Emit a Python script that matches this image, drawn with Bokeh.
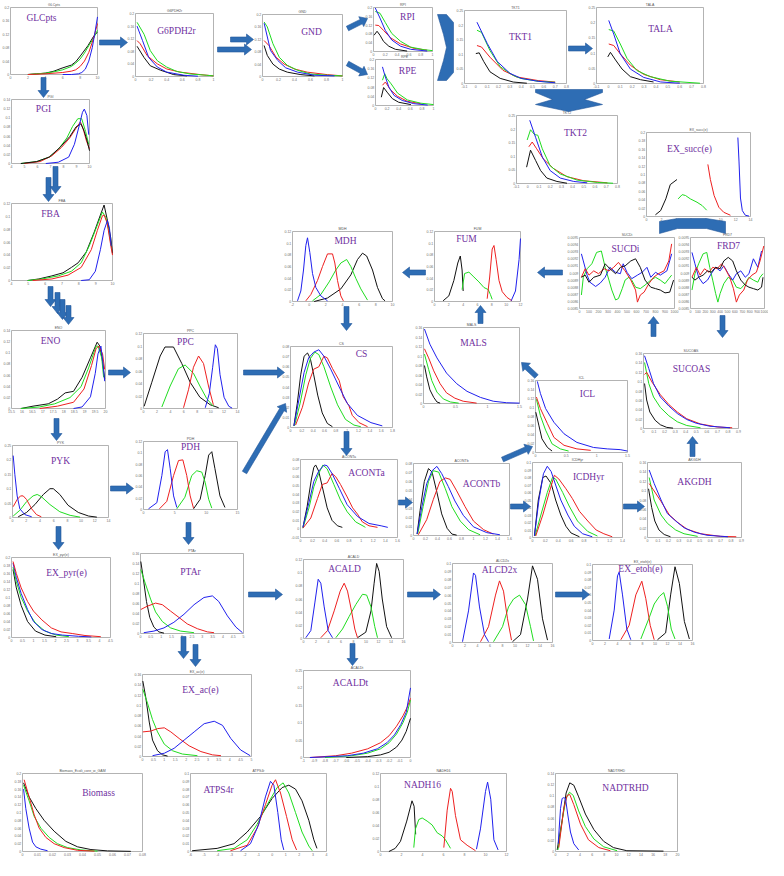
import math
from bokeh.plotting import figure
from bokeh.models import Range1d
from bokeh.core.properties import value
from bokeh.embed import file_html
from bokeh.resources import INLINE

# ---------------- colours / fonts ----------------
K, R, G, B = "#111111", "#ee2020", "#20dd20", "#2020ee"
FRAME = "#a0a0a0"
TICKC = "#707070"
LABELC = "#7030A0"
ARROWC = "#2E6DB4"
ARROWL = "#24579a"

# ---------------- tick lists ----------------
XT_0_10 = [0, 2, 4, 6, 8, 10]
XT_0_1 = [0, 0.2, 0.4, 0.6, 0.8, 1]
XT_TK = [-0.1, 0, 0.1, 0.2, 0.3, 0.4, 0.5, 0.6, 0.7, 0.8]
XT_0_14 = [0, 2, 4, 6, 8, 10, 12, 14]
XT_1000 = [0, 100, 200, 300, 400, 500, 600, 700, 800, 900, 1000]
XT_M2_10 = [-2, 0, 2, 4, 6, 8, 10]
XT_0_12 = [0, 2, 4, 6, 8, 10, 12]
XT_0_18 = [0, 0.2, 0.4, 0.6, 0.8, 1, 1.2, 1.4, 1.6, 1.8]
XT_0_15H = [0, 0.5, 1, 1.5]
XT_0_09 = [0, 0.1, 0.2, 0.3, 0.4, 0.5, 0.6, 0.7, 0.8, 0.9]
XT_4_10 = [4, 5, 6, 7, 8, 9, 10]
XT_ENO = [15.5, 16, 16.5, 17, 17.5, 18, 18.5, 19, 19.5, 20]
XT_0_15 = [0, 5, 10, 15]
XT_0_16S = [0, 0.2, 0.4, 0.6, 0.8, 1, 1.2, 1.4, 1.6]
XT_0_14S = [0, 0.2, 0.4, 0.6, 0.8, 1, 1.2, 1.4]
XT_0_45 = [0, 0.5, 1, 1.5, 2, 2.5, 3, 3.5, 4, 4.5]
XT_0_5 = [0, 0.5, 1, 1.5, 2, 2.5, 3, 3.5, 4, 4.5, 5]
XT_0_16 = [0, 2, 4, 6, 8, 10, 12, 14, 16]
XT_M1_0 = [-1, -0.9, -0.8, -0.7, -0.6, -0.5, -0.4, -0.3, -0.2, -0.1, 0]
XT_0_008 = [0, 0.01, 0.02, 0.03, 0.04, 0.05, 0.06, 0.07, 0.08]
XT_M6_4 = [-6, -5, -4, -3, -2, -1, 0, 1, 2, 3, 4]
XT_0_20 = [0, 2, 4, 6, 8, 10, 12, 14, 16, 18, 20]

YT_020 = [0, 0.04, 0.08, 0.12, 0.16, 0.2]
YT_020B = [0, 0.02, 0.04, 0.06, 0.08, 0.1, 0.12, 0.14, 0.16, 0.18, 0.2]
YT_025 = [0, 0.05, 0.1, 0.15, 0.2, 0.25]
YT_SUC = [0.0085, 0.0086, 0.0087, 0.0088, 0.0089, 0.009, 0.0091, 0.0092, 0.0093, 0.0094, 0.0095]
YT_012 = [0, 0.02, 0.04, 0.06, 0.08, 0.1, 0.12]
YT_008 = [0, 0.01, 0.02, 0.03, 0.04, 0.05, 0.06, 0.07, 0.08]
YT_016 = [0, 0.02, 0.04, 0.06, 0.08, 0.1, 0.12, 0.14, 0.16]
YT_014 = [0, 0.02, 0.04, 0.06, 0.08, 0.1, 0.12, 0.14]
YT_ACA = [-0.01, 0, 0.01, 0.02, 0.03, 0.04, 0.05, 0.06, 0.07, 0.08]
YT_010 = [0, 0.01, 0.02, 0.03, 0.04, 0.05, 0.06, 0.07, 0.08, 0.09, 0.1]

# ---------------- series ----------------
glc_k_x = [2, 3, 4, 5, 5.8, 6.5, 7, 7.5, 8.1, 8.9, 9.6, 10]
glc_k_y = [0, .002, .004, .01, .018, .024, .028, .038, .058, .086, .116, .126]
glc_r_x = [2, 4, 5, 6, 7, 7.5, 8, 8.5, 9, 9.5, 10]
glc_r_y = [0, .002, .004, .006, .01, .014, .024, .04, .066, .104, .152]
glc_g_x = [2, 4, 5, 6, 7, 7.5, 8, 8.5, 9, 9.5, 10]
glc_g_y = [0, .004, .008, .014, .024, .034, .046, .064, .086, .106, .132]
glc_b_x = [6, 7, 7.8, 8.2, 8.6, 9, 9.4, 9.7, 10]
glc_b_y = [0, 0, .002, .006, .016, .04, .08, .124, .172]

g6p_k_x = [.02, .11, .19, .32, .49, .66]
g6p_k_y = [.096, .06, .034, .02, .006, .002]
g6p_r_x = [.02, .06, .15, .28, .4, .57, .83, 1.0]
g6p_r_y = [.114, .104, .066, .04, .024, .014, .006, .002]
g6p_g_x = [.02, .11, .19, .28, .4, .53, .7, .91, 1.0]
g6p_g_y = [.172, .134, .082, .05, .03, .016, .008, .004, .002]
g6p_b_x = [.02, .09, .17, .28, .4, .62, .8]
g6p_b_y = [.16, .114, .06, .03, .014, .004, .001]

gnd_k_x = [.02, .06, .13, .21, .31, .48, .65]
gnd_k_y = [.1, .068, .04, .024, .014, .006, .002]
gnd_r_x = [.02, .08, .17, .27, .4, .56, .81, 1.0]
gnd_r_y = [.116, .1, .062, .04, .024, .014, .006, .002]
gnd_g_x = [.02, .06, .13, .21, .31, .44, .6, .81, 1.0]
gnd_g_y = [.176, .16, .106, .062, .036, .02, .008, .004, .002]
gnd_b_x = [.02, .1, .19, .29, .44, .65, .9]
gnd_b_y = [.172, .084, .052, .028, .014, .004, .002]

rpi_k_x = [.01, .06, .11, .17, .26, .37, .57]
rpi_k_y = [.074, .092, .074, .046, .024, .01, .002]
rpi_r_x = [.03, .09, .17, .29, .46, .69, .91]
rpi_r_y = [.12, .118, .096, .062, .034, .014, .006]
rpi_g_x = [.03, .11, .2, .31, .46, .63, .86, 1.0]
rpi_g_y = [.182, .174, .132, .082, .046, .02, .008, .004]
rpi_b_x = [.03, .11, .2, .31, .46, .63, .91]
rpi_b_y = [.198, .152, .096, .052, .024, .01, .002]

rpe_k_x = [.1, .14, .2, .29, .4, .61]
rpe_k_y = [.036, .078, .058, .03, .014, .004]
rpe_r_x = [.12, .17, .26, .38, .55, .78]
rpe_r_y = [.088, .102, .068, .04, .018, .008]
rpe_g_x = [.12, .16, .2, .27, .38, .55, .78, 1.0]
rpe_g_y = [.11, .138, .116, .094, .054, .024, .01, .004]
rpe_b_x = [.12, .16, .23, .32, .46, .66, .9]
rpe_b_y = [.168, .132, .08, .044, .022, .008, .002]

tkt1_k_x = [0, .03, .07, .125, .215, .33, .45]
tkt1_k_y = [.1025, .105, .075, .04, .0175, .005, .001]
tkt1_r_x = [.01, .05, .125, .24, .36, .55, .7]
tkt1_r_y = [.13, .125, .09, .045, .0225, .01, .005]
tkt1_g_x = [.01, .05, .125, .215, .33, .395, .55, .7]
tkt1_g_y = [.1825, .175, .1125, .0575, .0275, .0175, .0075, .004]
tkt1_b_x = [.01, .1, .19, .3, .4, .55, .7]
tkt1_b_y = [.21, .1375, .075, .035, .0175, .0075, .0025]

tala_k_x = [-.005, .017, .06, .115, .185, .27, .38]
tala_k_y = [.0875, .1025, .0775, .0475, .0225, .0125, .005]
tala_r_x = [.003, .045, .1, .185, .297, .437, .6]
tala_r_y = [.13, .125, .0975, .06, .03, .0125, .005]
tala_g_x = [.003, .045, .1, .157, .24, .353, .52, .77]
tala_g_y = [.1775, .1725, .13, .0825, .0425, .0225, .0075, .001]
tala_b_x = [.003, .045, .1, .185, .297, .44, .6]
tala_b_y = [.2075, .1625, .0975, .0475, .02, .005, .001]

tkt2_k_x = [-.01, .025, .07, .115, .17, .26, .35]
tkt2_k_y = [.06, .1225, .085, .0475, .02, .0075, .001]
tkt2_r_x = [.01, .04, .08, .14, .23, .35, .5, .71]
tkt2_r_y = [.135, .1525, .1275, .09, .055, .025, .01, .0025]
tkt2_g_x = [-.005, .025, .06, .09, .13, .2, .29, .44, .62, .76]
tkt2_g_y = [.16, .1975, .18, .1775, .1275, .065, .035, .0125, .004, .001]
tkt2_b_x = [.018, .07, .13, .2, .29, .41, .53]
tkt2_b_y = [.2325, .17, .0975, .0475, .02, .0075, .0025]

succ_k_x = [1.2, 1.9, 2.6, 3.2, 4.1]
succ_k_y = [.004, .014, .042, .076, .088]
succ_g_x = [4.26, 4.8, 5.25, 5.9, 6.8, 7.5, 8.1]
succ_g_y = [.042, .052, .05, .042, .034, .026, .015]
succ_r_x = [8.26, 8.6, 9.1, 9.74, 10.4, 11.3]
succ_r_y = [.124, .088, .05, .022, .01, .003]
succ_b_x = [12.3, 12.45, 12.65, 12.9, 13.3, 13.8]
succ_b_y = [.188, .132, .044, .014, .003, .001]

sucdi_g_x = [20, 40, 80, 130, 180, 230, 270, 310, 340, 380, 410, 450, 480, 520, 550, 590, 640, 690, 750, 800, 850, 900, 940, 970]
sucdi_g_y = [.00869, .00894, .00906, .00913, .00929, .00931, .00908, .0089, .00876, .00862, .00864, .00878, .0089, .00894, .0089, .0088, .00878, .00883, .0089, .00894, .0089, .00885, .00892, .00897]
sucdi_b_x = [20, 40, 80, 110, 170, 220, 270, 320, 380, 430, 460, 500, 550, 610, 660, 710, 750, 800, 850, 920, 970]
sucdi_b_y = [.00927, .00917, .00897, .00887, .00881, .00886, .00894, .00908, .00901, .00899, .00913, .00901, .00892, .00897, .00901, .00908, .00894, .00901, .00897, .00903, .00927]
sucdi_r_x = [20, 60, 100, 150, 200, 260, 310, 360, 410, 450, 480, 540, 590, 610, 640, 680, 730, 780, 830, 890, 940, 970]
sucdi_r_y = [.00894, .00906, .00897, .00903, .00899, .00906, .00903, .00908, .00915, .00908, .00903, .0089, .00876, .00859, .00869, .00873, .00885, .00894, .00899, .00903, .00917, .00941]
sucdi_k_x = [20, 60, 100, 150, 220, 270, 320, 380, 430, 480, 540, 590, 640, 690, 750, 800, 850, 900, 950, 990]
sucdi_k_y = [.00894, .00897, .00887, .00894, .00897, .00913, .00906, .00899, .00908, .0091, .00917, .0092, .00908, .0089, .0088, .00878, .00876, .00872, .00873, .0089]

frd7_g_x = [20, 60, 110, 170, 220, 260, 300, 340, 370, 400, 450, 510, 570, 620, 680, 740, 790, 850, 910, 940, 980]
frd7_g_y = [.00876, .00899, .00913, .00927, .00929, .00908, .0089, .00871, .00859, .00871, .00885, .00894, .0089, .0088, .00878, .00885, .00894, .0089, .00887, .00894, .00899]
frd7_b_x = [20, 60, 110, 170, 230, 280, 340, 400, 450, 510, 570, 620, 680, 740, 790, 850, 910, 960]
frd7_b_y = [.00929, .00913, .00894, .00885, .0089, .00899, .00908, .00903, .0091, .00899, .0089, .00899, .00903, .00894, .00899, .0092, .00908, .00931]
frd7_r_x = [20, 80, 130, 190, 250, 300, 360, 420, 470, 530, 580, 620, 660, 720, 770, 830, 890, 940, 990]
frd7_r_y = [.00894, .00908, .00897, .00906, .00901, .00908, .00906, .00913, .00906, .00894, .00878, .00859, .00869, .00876, .0089, .00897, .00901, .00917, .00938]
frd7_k_x = [20, 60, 110, 170, 230, 280, 340, 400, 450, 510, 570, 620, 680, 740, 790, 850, 910, 960, 980]
frd7_k_y = [.00894, .0089, .00894, .00897, .00903, .00901, .00908, .00906, .00917, .00922, .00917, .00903, .0089, .00883, .0088, .00878, .00876, .0088, .00894]

mdh_b_x = [-1.4, -1.0, -.68, -.4, -.2, .08, .4, .8, 1.4, 2.2]
mdh_b_y = [.0012, .018, .054, .096, .1092, .084, .048, .024, .0096, .0012]
mdh_r_x = [-.4, .2, 1.0, 1.6, 2.2, 2.8, 3.08, 3.4, 3.8, 4.1]
mdh_r_y = [.0012, .012, .036, .06, .0816, .0816, .066, .036, .0096, .0012]
mdh_g_x = [.4, 1.4, 2.4, 3.2, 3.8, 4.5, 5.0, 5.6, 6.2, 7.0]
mdh_g_y = [.0012, .012, .0336, .054, .066, .072, .06, .0396, .0216, .0024]
mdh_k_x = [.6, 2.2, 3.8, 5.0, 5.8, 6.4, 6.9, 7.6, 8.2, 8.8, 9.1]
mdh_k_y = [0, .006, .0216, .0456, .072, .0828, .078, .054, .024, .0048, .0012]

fum_k_x = [1.2, 2.0, 2.7, 3.25, 3.6, 3.85, 4.0]
fum_k_y = [.0012, .0096, .036, .066, .078, .054, .018]
fum_g_x = [3.85, 4.2, 4.8, 5.5, 6.2, 6.9, 7.5, 7.8, 8.05]
fum_g_y = [.0204, .048, .0504, .042, .0336, .024, .0204, .012, .0036]
fum_r_x = [7.35, 7.7, 8.05, 8.3, 8.6, 9.0, 9.45, 10.1, 10.8]
fum_r_y = [.0048, .042, .09, .096, .072, .036, .0168, .0072, .0012]
fum_b_x = [10.7, 11.3, 11.8, 12.0]
fum_b_y = [.0012, .018, .072, .108]

cs_k_x = [.06, .12, .18, .24, .3, .35, .41, .48, .56, .65, .74]
cs_k_y = [.0016, .024, .052, .0704, .0736, .068, .052, .032, .0144, .004, .0008]
cs_b_x = [.06, .15, .24, .32, .41, .5, .59, .71, .86, 1.0, 1.18, 1.42, 1.62]
cs_b_y = [.0016, .028, .0544, .0688, .0744, .0768, .0704, .0576, .04, .024, .012, .0048, .0016]
cs_g_x = [.07, .17, .27, .35, .43, .5, .59, .71, .83, .97, 1.12, 1.24]
cs_g_y = [.0016, .024, .052, .068, .0744, .072, .06, .04, .0224, .008, .0024, .0008]
cs_r_x = [.09, .21, .32, .41, .5, .59, .65, .74, .86, .93, 1.03, 1.09, 1.21, 1.36]
cs_r_y = [.0024, .02, .044, .0576, .06, .0704, .0688, .0584, .0464, .0304, .0216, .012, .0048, .0008]

mals_b_x = [.015, .1, .21, .36, .52, .68, .89, 1.09, 1.3, 1.5]
mals_b_y = [.1568, .1248, .096, .064, .0416, .0256, .0128, .0048, .0016, .0008]
mals_r_x = [.015, .08, .16, .26, .36, .49, .62, .83]
mals_r_y = [.1152, .096, .0688, .0416, .0224, .0112, .0048, .0008]
mals_g_x = [.015, .08, .13, .21, .31, .42, .55]
mals_g_y = [.104, .072, .048, .024, .0096, .0032, .0008]
mals_k_x = [.015, .05, .1, .16, .21, .26]
mals_k_y = [.08, .056, .0288, .0128, .0032, .0008]

icl_b_x = [.03, .08, .165, .3, .465, .675, .945, 1.17, 1.38, 1.5]
icl_b_y = [.158, .1312, .0976, .0672, .0416, .0224, .0112, .008, .0064, .0032]
icl_r_x = [.015, .08, .195, .3, .465, .675, .9]
icl_r_y = [.1232, .0976, .064, .0336, .016, .008, .0048]
icl_g_x = [.015, .08, .165, .27, .405, .54]
icl_g_y = [.1184, .0816, .0496, .0192, .008, .0032]
icl_k_x = [.005, .054, .105, .195, .27]
icl_k_y = [.0896, .0608, .0304, .0112, .0032]

sucoas_b_x = [.01, .05, .095, .16, .24, .32, .41, .5, .63, .82]
sucoas_b_y = [.1552, .128, .096, .0672, .048, .032, .0192, .0112, .0048, .0016]
sucoas_r_x = [.01, .03, .08, .16, .24, .32, .41, .54, .7, .84]
sucoas_r_y = [.1152, .12, .0992, .072, .0512, .0352, .0208, .0096, .0032, .0016]
sucoas_g_x = [.01, .05, .095, .16, .24, .32, .41, .54]
sucoas_g_y = [.1408, .096, .0672, .0448, .0272, .0144, .0064, .0016]
sucoas_k_x = [.01, .03, .06, .11, .16, .22, .28]
sucoas_k_y = [.096, .0608, .0352, .0176, .008, .0024, .0008]

akgdh_b_x = [.016, .064, .13, .19, .27, .35, .45, .57, .77]
akgdh_b_y = [.144, .1152, .08, .0512, .0352, .0208, .0112, .0048, .0016]
akgdh_r_x = [.016, .064, .13, .21, .29, .38, .51, .7, .85]
akgdh_r_y = [.1152, .0992, .0768, .048, .032, .0176, .008, .0024, .0016]
akgdh_g_x = [.016, .064, .13, .19, .27, .35, .48]
akgdh_g_y = [.128, .08, .048, .0304, .016, .008, .0024]
akgdh_k_x = [.01, .04, .07, .11, .16, .22]
akgdh_k_y = [.104, .064, .0352, .016, .0064, .0016]

pgi_g_x = [4.72, 5.94, 6.9, 7.6, 8.26, 8.7, 9.1, 9.4, 9.7, 9.94]
pgi_g_y = [0, .0042, .014, .0308, .056, .0812, .098, .098, .07, .042]
pgi_r_x = [4.97, 6.2, 7.1, 7.84, 8.48, 8.96, 9.3, 9.5, 9.77, 10]
pgi_r_y = [0, .0042, .0168, .035, .056, .077, .091, .077, .049, .0322]
pgi_k_x = [4.72, 5.94, 6.9, 7.72, 8.48, 8.96, 9.34, 9.6, 9.82, 10]
pgi_k_y = [0, .0042, .014, .035, .0588, .0798, .0868, .07, .049, .028]
pgi_b_x = [6.64, 7.6, 8.4, 8.84, 9.22, 9.46, 9.6, 9.8, 9.94]
pgi_b_y = [0, .0028, .014, .042, .084, .112, .119, .105, .063]

fba_k_x = [4.96, 5.62, 6.4, 7.06, 7.56, 7.96, 8.44, 8.9, 9.28, 9.5, 9.68, 9.9, 10]
fba_k_y = [0, .0024, .0072, .012, .0204, .0276, .0444, .0744, .102, .1176, .096, .066, .042]
fba_g_x = [4.96, 5.8, 6.78, 7.56, 8.14, 8.62, 9.1, 9.4, 9.6, 9.78, 9.92]
fba_g_y = [0, .0024, .0072, .0144, .0276, .054, .0864, .1068, .0984, .078, .054]
fba_r_x = [5.26, 6.4, 7.36, 8.14, 8.74, 9.1, 9.4, 9.5, 9.68, 9.9, 10]
fba_r_y = [0, .0024, .0084, .0204, .048, .078, .1008, .102, .09, .054, .0396]
fba_b_x = [8.14, 8.62, 8.98, 9.28, 9.5, 9.7, 9.82, 9.92]
fba_b_y = [0, .0012, .0144, .048, .078, .0936, .0816, .054]

eno_k_x = [15.95, 16.53, 17.26, 17.7, 18.07, 18.47, 18.88, 19.28, 19.6, 19.73, 19.86, 19.96]
eno_k_y = [0, .0042, .0084, .0168, .028, .0308, .056, .091, .119, .112, .084, .0532]
eno_g_x = [15.95, 16.85, 17.57, 18.3, 18.83, 19.19, 19.55, 19.64, 19.82, 19.91]
eno_g_y = [0, .0028, .0084, .0196, .0392, .0728, .112, .112, .091, .056]
eno_r_x = [16.85, 17.7, 18.47, 18.97, 19.33, 19.55, 19.69, 19.86, 19.96]
eno_r_y = [0, .0042, .0112, .035, .077, .1078, .112, .098, .07]
eno_b_x = [18.47, 18.88, 19.28, 19.51, 19.64, 19.78, 19.87, 19.96]
eno_b_y = [0, .0028, .021, .063, .098, .112, .084, .049]

ppc_k_x = [.1, 1.24, 2.48, 3.2, 4.47, 5.7, 6.95, 8.4, 9.93, 11.2]
ppc_k_y = [.0036, .042, .084, .0984, .0984, .072, .042, .018, .006, .0012]
ppc_g_x = [2.73, 3.97, 5.2, 6.2, 7.44, 8.4, 9.43, 10.4]
ppc_g_y = [.0024, .036, .0636, .0696, .0564, .036, .0156, .0036]
ppc_r_x = [5.96, 6.7, 7.44, 8.2, 8.94, 9.68, 10.4]
ppc_r_y = [.0012, .03, .066, .084, .072, .036, .006]
ppc_b_x = [9.2, 9.8, 10.3, 10.7, 11.0, 11.4, 12.0, 12.7, 13.2]
ppc_b_y = [.0012, .024, .066, .102, .096, .054, .018, .0036, .0006]

pyk_b_x = [.1, .34, .68, 1.07, 1.8, 2.8]
pyk_b_y = [.215, .15, .075, .03, .01, .0025]
pyk_r_x = [.1, .68, 1.17, 1.56, 2.05, 2.8, 3.5, 4.2]
pyk_r_y = [.0375, .0625, .075, .075, .0625, .03, .01, .0025]
pyk_g_x = [.1, 1.07, 2.05, 3.0, 3.6, 4.2, 5.46, 6.9, 8.4, 9.85]
pyk_g_y = [.005, .025, .055, .075, .08, .0725, .045, .02, .0075, .00125]
pyk_k_x = [.83, 2.05, 3.27, 4.5, 5.46, 5.95, 6.9, 8.1, 9.6, 11.1, 12.3]
pyk_k_y = [.0025, .0175, .045, .08, .1, .1, .08, .0425, .0175, .005, .00125]

pdh_b_x = [.8, 2.13, 2.93, 3.46, 3.83, 4.26, 4.8, 5.32]
pdh_b_y = [.0012, .012, .06, .102, .1056, .072, .024, .0036]
pdh_r_x = [2.55, 3.72, 4.8, 5.59, 6.28, 6.9, 7.45, 7.98]
pdh_r_y = [.0012, .0144, .06, .0864, .0876, .06, .024, .0024]
pdh_g_x = [5.32, 6.6, 7.7, 8.5, 9.3, 9.84, 10.4, 10.9]
pdh_g_y = [.0012, .0216, .06, .0684, .066, .048, .018, .0024]
pdh_k_x = [7.98, 9.04, 9.84, 10.4, 10.9, 11.4, 12.2, 13.0]
pdh_k_y = [.0012, .018, .06, .096, .102, .072, .024, .0036]

aca_k_x = [.04, .11, .18, .22, .25, .3, .36, .44, .52, .61, .69]
aca_k_y = [.0017, .026, .0575, .071, .0737, .0665, .0485, .0242, .0098, .0035, .0017]
aca_b_x = [.04, .14, .22, .3, .39, .44, .52, .64, .77, .94, 1.13, 1.33, 1.44]
aca_b_y = [.0017, .0305, .0548, .0665, .0737, .0728, .0638, .0467, .0278, .0143, .0062, .0035, .0017]
aca_g_x = [.04, .14, .22, .3, .37, .44, .55, .66, .77, .91, 1.05, 1.07]
aca_g_y = [.0008, .0242, .0485, .0638, .0737, .0692, .0512, .0332, .0197, .008, .0026, .0017]
aca_r_x = [.04, .17, .28, .36, .44, .52, .58, .66, .77, .86, .94, 1.02, 1.13, 1.27]
aca_r_y = [.0008, .0125, .035, .0512, .053, .0638, .0602, .0512, .0368, .0242, .017, .008, .0035, .0017]

acb_k_x = [.06, .11, .18, .25, .31, .39, .47, .56, .64, .72]
acb_k_y = [.0016, .028, .06, .0744, .0704, .048, .024, .008, .0016, .0004]
acb_b_x = [.06, .14, .22, .31, .39, .47, .58, .69, .83, 1.0, 1.22, 1.44]
acb_b_y = [.0016, .032, .0576, .072, .0768, .0688, .0544, .0384, .0224, .0096, .0032, .0008]
acb_g_x = [.07, .16, .25, .33, .42, .53, .64, .78, .92, 1.11]
acb_g_y = [.0016, .032, .06, .072, .0704, .052, .032, .016, .0064, .0008]
acb_r_x = [.08, .22, .33, .44, .53, .61, .72, .86, 1.0, 1.17, 1.33]
acb_r_y = [.0008, .0176, .04, .06, .064, .0624, .0496, .032, .016, .0064, .0016]

icd_b_x = [.03, .1, .17, .23, .29, .36, .44, .55, .65, .78, .93]
icd_b_y = [.002, .05, .085, .095, .088, .07, .05, .03, .015, .005, .001]
icd_k_x = [.03, .09, .16, .21, .29, .36, .44, .52, .6, .73]
icd_k_y = [.002, .05, .08, .082, .072, .05, .03, .015, .006, .001]
icd_g_x = [.04, .13, .23, .31, .36, .47, .57, .7, .86, 1.01]
icd_g_y = [.002, .03, .06, .08, .078, .06, .042, .022, .008, .002]
icd_r_x = [.05, .16, .26, .34, .41, .52, .62, .73, .86, .99, 1.11, 1.24]
icd_r_y = [.002, .03, .06, .083, .078, .065, .052, .035, .022, .01, .005, .001]

pyr_b_x = [.07, .22, .44, .73, 1.0, 1.38, 1.81, 2.32, 3.05, 3.63]
pyr_b_y = [.186, .15, .11, .07, .04, .02, .01, .006, .003, .0016]
pyr_r_x = [.07, .22, .44, .73, 1.0, 1.38, 1.81, 2.25, 2.76, 3.34, 4.06]
pyr_r_y = [.19, .16, .124, .09, .066, .044, .024, .014, .01, .005, .002]
pyr_g_x = [.07, .22, .44, .73, 1.09, 1.52, 2.03, 2.61]
pyr_g_y = [.176, .14, .1, .066, .036, .016, .006, .002]
pyr_k_x = [.07, .22, .44, .73, 1.09, 1.52, 2.03]
pyr_k_y = [.17, .124, .08, .04, .016, .006, .002]

pta_k_x = [.015, .13, .29, .45, .65, .89, 1.14]
pta_k_y = [.144, .112, .064, .032, .0128, .0032, .0008]
pta_g_x = [.015, .24, .49, .73, 1.06, 1.46, 1.95, 2.6]
pta_g_y = [.128, .0992, .0688, .0432, .024, .0112, .0048, .0016]
pta_r_x = [.015, .32, .73, 1.06, 1.46, 1.87, 2.27, 2.76, 3.25, 3.57]
pta_r_y = [.048, .0544, .0608, .0576, .0448, .032, .0192, .0096, .0032, .0016]
pta_b_x = [.16, .65, 1.14, 1.62, 2.11, 2.6, 3.08, 3.49, 3.8, 4.22, 4.63, 4.95]
pta_b_y = [.0016, .0048, .0112, .0224, .0384, .0576, .072, .0752, .064, .0352, .0128, .0016]

exac_k_x = [.015, .15, .31, .46, .69, .92, 1.15]
exac_k_y = [.1472, .1152, .0672, .032, .0112, .0032, .0008]
exac_g_x = [.015, .23, .46, .69, 1.0, 1.38, 1.83, 2.52]
exac_g_y = [.1312, .104, .072, .048, .024, .0112, .0048, .0016]
exac_r_x = [.015, .38, .69, 1.0, 1.3, 1.68, 2.14, 2.68, 3.21, 3.6]
exac_r_y = [.048, .0496, .0544, .056, .048, .0352, .0208, .0096, .0032, .0016]
exac_b_x = [.46, 1.0, 1.45, 1.91, 2.37, 2.83, 3.29, 3.67, 4.05, 4.5, 4.94]
exac_b_y = [.0016, .0064, .016, .032, .048, .064, .0688, .0608, .0352, .0128, .0016]

acald_b_x = [.37, 1.17, 1.81, 2.35, 2.77, 3.31, 3.95, 4.64]
acald_b_y = [.0012, .012, .054, .09, .084, .048, .012, .0012]
acald_r_x = [2.77, 3.84, 4.91, 5.87, 6.51, 7.04, 7.68, 8.21, 8.64]
acald_r_y = [.0012, .012, .042, .072, .084, .072, .042, .0144, .0012]
acald_g_x = [5.17, 6.24, 7.31, 8.37, 9.44, 10.1, 10.8, 11.4, 11.84]
acald_g_y = [.0012, .0144, .0336, .0516, .0672, .066, .048, .018, .0012]
acald_k_x = [8.64, 9.97, 10.8, 11.3, 11.7, 12.1, 12.6, 13.3, 14.1]
acald_k_y = [.0012, .0096, .042, .084, .114, .102, .06, .018, .0012]

alcd_b_x = [1.6, 2.56, 3.36, 3.68, 4.32, 5.12, 5.76]
alcd_b_y = [.001, .04, .088, .085, .045, .01, .001]
alcd_r_x = [4.48, 5.76, 6.88, 7.52, 8.16, 8.8, 9.44]
alcd_r_y = [.001, .02, .06, .078, .065, .03, .003]
alcd_g_x = [6.56, 8.0, 8.96, 9.76, 10.72, 11.68, 12.48, 12.96]
alcd_g_y = [.001, .02, .045, .055, .06, .048, .02, .002]
alcd_k_x = [9.6, 10.88, 12.0, 12.8, 13.6, 14.4, 15.2]
alcd_k_y = [.001, .01, .055, .097, .08, .03, .003]

etoh_b_x = [2.67, 3.47, 4.0, 4.27, 4.8, 5.49, 6.13]
etoh_b_y = [.002, .04, .085, .09, .06, .015, .001]
etoh_r_x = [4.53, 5.87, 6.93, 7.89, 8.53, 9.23, 9.87]
etoh_r_y = [.001, .02, .06, .078, .055, .02, .001]
etoh_g_x = [7.73, 9.07, 9.87, 10.7, 11.4, 12.0, 12.6, 13.2]
etoh_g_y = [.002, .03, .048, .058, .063, .045, .015, .002]
etoh_k_x = [10.4, 11.7, 12.5, 13.2, 13.9, 14.7, 15.5]
etoh_k_y = [.001, .01, .06, .097, .075, .025, .002]

acaldt_b_x = [-.94, -.59, -.44, -.31, -.22, -.15, -.09, -.04, 0]
acaldt_b_y = [0, .005, .0125, .025, .0425, .065, .095, .13, .2]
acaldt_r_x = [-.94, -.7, -.55, -.4, -.28, -.2, -.13, -.07, -.03, 0]
acaldt_r_y = [0, .005, .0125, .025, .0425, .0625, .09, .12, .145, .17]
acaldt_g_x = [-.8, -.55, -.4, -.28, -.2, -.13, -.07, -.03, 0]
acaldt_g_y = [0, .005, .0125, .025, .0425, .0675, .1, .13, .165]
acaldt_k_x = [-.6, -.4, -.28, -.2, -.13, -.08, -.04, 0]
acaldt_k_y = [0, .0025, .0075, .015, .03, .05, .075, .1125]

bio_r_x = [.0011, .0044, .0078, .0111, .0156, .0211, .0278, .0367, .048]
bio_r_y = [.184, .14, .094, .06, .036, .02, .01, .003, .001]
bio_g_x = [.0007, .0044, .0078, .0122, .0178, .0233, .03, .0389, .05]
bio_g_y = [.17, .13, .09, .06, .036, .02, .01, .004, .001]
bio_k_x = [.0007, .0044, .0089, .0144, .0211, .0289, .0367, .0456, .0567, .0722]
bio_k_y = [.176, .14, .11, .08, .052, .026, .012, .005, .0016, .0004]
bio_b_x = [.0007, .0022, .0044, .0067, .0089, .0122, .0167]
bio_b_y = [.16, .11, .06, .024, .012, .006, .002]

atp_k_x = [-5.88, -4.04, -2.8, -1.83, -.85, 0, .74, 1.23, 1.72, 2.2, 2.7, 3.07, 3.3]
atp_k_y = [.001, .004, .01, .025, .045, .068, .082, .085, .08, .065, .04, .015, .004]
atp_g_x = [-4.04, -2.8, -1.83, -1.1, -.36, .37, .81, 1.23, 1.72, 2.2, 2.7, 2.95]
atp_g_y = [.001, .004, .015, .035, .06, .082, .088, .075, .05, .025, .007, .001]
atp_r_x = [-3.06, -1.83, -1.1, -.49, 0, .25, .62, 1.06, 1.48, 1.8]
atp_r_y = [.001, .008, .03, .06, .085, .092, .075, .045, .015, .002]
atp_b_x = [-2.32, -1.59, -.98, -.49, -.12, .13, .42, .67, .86]
atp_b_y = [.001, .01, .035, .07, .09, .085, .05, .015, .002]

nadh_k_x = [.8, 1.4, 1.9, 2.5, 3.0, 3.2, 3.35]
nadh_k_y = [0, .0048, .0156, .0468, .078, .0696, .0264]
nadh_g_x = [3.17, 3.33, 3.65, 3.97, 4.44, 4.92, 5.4, 5.87, 6.19, 6.67]
nadh_g_y = [.006, .0348, .0492, .0516, .0468, .0408, .0288, .024, .018, .0048]
nadh_r_x = [6.03, 6.35, 6.67, 6.83, 7.14, 7.62, 8.25, 9.05]
nadh_r_y = [.006, .0636, .0972, .0924, .0552, .018, .0096, .0012]
nadh_b_x = [9.14, 9.52, 10.0, 10.2, 10.5, 10.8, 11.2]
nadh_b_y = [.0036, .0348, .0924, .1068, .0804, .018, .0024]

nadt_k_x = [.27, 1.09, 1.74, 2.34, 3.0, 3.8, 4.9, 6.3, 7.9, 9.5, 11.7, 17.7]
nadt_k_y = [.0028, .056, .105, .1232, .119, .098, .0672, .0392, .0182, .007, .0014, .0007]
nadt_g_x = [.4, 1.2, 1.74, 2.29, 2.9, 3.8, 4.9, 6.3, 7.9, 10.1]
nadt_g_y = [.0028, .063, .0952, .1064, .1008, .0728, .0448, .0224, .0084, .0014]
nadt_r_x = [.54, 1.36, 1.91, 2.34, 3.0, 4.1, 5.4, 7.1, 9.0]
nadt_r_y = [.007, .077, .1008, .1022, .084, .049, .021, .007, .0014]
nadt_b_x = [.44, .82, 1.09, 1.36, 1.64, 2.0, 2.45, 3.0, 3.8]
nadt_b_y = [.014, .077, .0952, .0966, .0952, .0672, .035, .014, .0028]

# ---------------- panel layout (page pixels: left, right, top, bottom) ----------------
PANELS = [
    dict(t="GLCpts", lab="GLCpts", f=(10, 97, 7, 74), lp=(41, 17), xl=(0, 10), yl=(0, 0.2), xt=XT_0_10, yt=YT_020,
         c=[(glc_k_x, glc_k_y, K), (glc_g_x, glc_g_y, G), (glc_r_x, glc_r_y, R), (glc_b_x, glc_b_y, B)]),
    dict(t="G6PDH2r", lab="G6PDH2r", f=(135, 213, 13, 76), lp=(176, 30), xl=(0, 1), yl=(0, 0.2), xt=XT_0_1, yt=YT_020,
         c=[(g6p_k_x, g6p_k_y, K), (g6p_r_x, g6p_r_y, R), (g6p_g_x, g6p_g_y, G), (g6p_b_x, g6p_b_y, B)]),
    dict(t="GND", lab="GND", f=(262, 342, 14, 76), lp=(311, 31), xl=(0, 1), yl=(0, 0.2), xt=XT_0_1, yt=YT_020,
         c=[(gnd_k_x, gnd_k_y, K), (gnd_r_x, gnd_r_y, R), (gnd_g_x, gnd_g_y, G), (gnd_b_x, gnd_b_y, B)]),
    dict(t="RPI", lab="RPI", f=(373, 432, 7, 51), lp=(407, 16), xl=(0, 1), yl=(0, 0.2), xt=XT_0_1, yt=YT_020,
         c=[(rpi_k_x, rpi_k_y, K), (rpi_r_x, rpi_r_y, R), (rpi_g_x, rpi_g_y, G), (rpi_b_x, rpi_b_y, B)]),
    dict(t="RPE", lab="RPE", f=(375, 433, 59, 105), lp=(407, 70), xl=(0, 1), yl=(0, 0.2), xt=XT_0_1, yt=YT_020,
         c=[(rpe_k_x, rpe_k_y, K), (rpe_r_x, rpe_r_y, R), (rpe_g_x, rpe_g_y, G), (rpe_b_x, rpe_b_y, B)]),
    dict(t="TKT1", lab="TKT1", f=(464, 566, 10, 83), lp=(520, 36), xl=(-0.1, 0.8), yl=(0, 0.25), xt=XT_TK, yt=YT_025,
         c=[(tkt1_k_x, tkt1_k_y, K), (tkt1_r_x, tkt1_r_y, R), (tkt1_g_x, tkt1_g_y, G), (tkt1_b_x, tkt1_b_y, B)]),
    dict(t="TALA", lab="TALA", f=(596, 703, 7, 83), lp=(660, 28), xl=(-0.1, 0.8), yl=(0, 0.25), xt=XT_TK, yt=YT_025,
         c=[(tala_k_x, tala_k_y, K), (tala_r_x, tala_r_y, R), (tala_g_x, tala_g_y, G), (tala_b_x, tala_b_y, B)]),
    dict(t="TKT2", lab="TKT2", f=(516, 617, 115, 183), lp=(575, 132), xl=(-0.1, 0.8), yl=(0, 0.25), xt=XT_TK, yt=YT_025,
         c=[(tkt2_k_x, tkt2_k_y, K), (tkt2_r_x, tkt2_r_y, R), (tkt2_g_x, tkt2_g_y, G), (tkt2_b_x, tkt2_b_y, B)]),
    dict(t="EX_succ(e)", lab="EX_succ(e)", f=(646, 750, 132, 216), lp=(689, 148), xl=(0, 14), yl=(0, 0.2), xt=XT_0_14, yt=YT_020B,
         c=[(succ_k_x, succ_k_y, K), (succ_g_x, succ_g_y, G), (succ_r_x, succ_r_y, R), (succ_b_x, succ_b_y, B)]),
    dict(t="SUCDi", lab="SUCDi", f=(579, 674, 237, 308), lp=(625, 248), xl=(0, 1000), yl=(0.0085, 0.0095), xt=XT_1000, yt=YT_SUC,
         c=[(sucdi_g_x, sucdi_g_y, G), (sucdi_b_x, sucdi_b_y, B), (sucdi_r_x, sucdi_r_y, R), (sucdi_k_x, sucdi_k_y, K)]),
    dict(t="FRD7", lab="FRD7", f=(690, 764, 237, 308), lp=(728, 245), xl=(0, 1000), yl=(0.0085, 0.0095), xt=XT_1000, yt=YT_SUC,
         c=[(frd7_g_x, frd7_g_y, G), (frd7_b_x, frd7_b_y, B), (frd7_r_x, frd7_r_y, R), (frd7_k_x, frd7_k_y, K)]),
    dict(t="MDH", lab="MDH", f=(292, 392, 231, 301), lp=(345, 240), xl=(-2, 10), yl=(0, 0.12), xt=XT_M2_10, yt=YT_012,
         c=[(mdh_k_x, mdh_k_y, K), (mdh_g_x, mdh_g_y, G), (mdh_r_x, mdh_r_y, R), (mdh_b_x, mdh_b_y, B)]),
    dict(t="FUM", lab="FUM", f=(434, 520, 231, 301), lp=(466, 238), xl=(0, 12), yl=(0, 0.12), xt=XT_0_12, yt=YT_012,
         c=[(fum_k_x, fum_k_y, K), (fum_g_x, fum_g_y, G), (fum_r_x, fum_r_y, R), (fum_b_x, fum_b_y, B)]),
    dict(t="CS", lab="CS", f=(290, 392, 346, 427), lp=(361, 353), xl=(0, 1.8), yl=(0, 0.08), xt=XT_0_18, yt=YT_008,
         c=[(cs_k_x, cs_k_y, K), (cs_g_x, cs_g_y, G), (cs_r_x, cs_r_y, R), (cs_b_x, cs_b_y, B)]),
    dict(t="MALS", lab="MALS", f=(423, 519, 327, 403), lp=(473, 342), xl=(0, 1.5), yl=(0, 0.16), xt=XT_0_15H, yt=YT_016,
         c=[(mals_k_x, mals_k_y, K), (mals_g_x, mals_g_y, G), (mals_r_x, mals_r_y, R), (mals_b_x, mals_b_y, B)]),
    dict(t="ICL", lab="ICL", f=(535, 627, 380, 452), lp=(587, 393), xl=(0, 1.5), yl=(0, 0.16), xt=XT_0_15H, yt=YT_016,
         c=[(icl_k_x, icl_k_y, K), (icl_g_x, icl_g_y, G), (icl_r_x, icl_r_y, R), (icl_b_x, icl_b_y, B)]),
    dict(t="SUCOAS", lab="SUCOAS", f=(643, 738, 353, 428), lp=(691, 368), xl=(0, 0.9), yl=(0, 0.16), xt=XT_0_09, yt=YT_016,
         c=[(sucoas_k_x, sucoas_k_y, K), (sucoas_g_x, sucoas_g_y, G), (sucoas_r_x, sucoas_r_y, R), (sucoas_b_x, sucoas_b_y, B)]),
    dict(t="PGI", lab="PGI", f=(11, 89, 99, 163), lp=(43, 108), xl=(4, 10), yl=(0, 0.14), xt=XT_4_10, yt=YT_014,
         c=[(pgi_g_x, pgi_g_y, G), (pgi_r_x, pgi_r_y, R), (pgi_k_x, pgi_k_y, K), (pgi_b_x, pgi_b_y, B)]),
    dict(t="FBA", lab="FBA", f=(11, 112, 203, 280), lp=(50, 213), xl=(4, 10), yl=(0, 0.12), xt=XT_4_10, yt=YT_012,
         c=[(fba_k_x, fba_k_y, K), (fba_g_x, fba_g_y, G), (fba_r_x, fba_r_y, R), (fba_b_x, fba_b_y, B)]),
    dict(t="ENO", lab="ENO", f=(11, 105, 330, 408), lp=(50, 340), xl=(15.5, 20), yl=(0, 0.14), xt=XT_ENO, yt=YT_014,
         c=[(eno_k_x, eno_k_y, K), (eno_g_x, eno_g_y, G), (eno_r_x, eno_r_y, R), (eno_b_x, eno_b_y, B)]),
    dict(t="PPC", lab="PPC", f=(143, 237, 333, 408), lp=(185, 341), xl=(0, 14), yl=(0, 0.12), xt=XT_0_14, yt=YT_012,
         c=[(ppc_k_x, ppc_k_y, K), (ppc_g_x, ppc_g_y, G), (ppc_r_x, ppc_r_y, R), (ppc_b_x, ppc_b_y, B)]),
    dict(t="PYK", lab="PYK", f=(12, 108, 445, 517), lp=(60, 460), xl=(0, 14), yl=(0, 0.25), xt=XT_0_14, yt=YT_025,
         c=[(pyk_k_x, pyk_k_y, K), (pyk_g_x, pyk_g_y, G), (pyk_r_x, pyk_r_y, R), (pyk_b_x, pyk_b_y, B)]),
    dict(t="PDH", lab="PDH", f=(143, 237, 441, 509), lp=(190, 446), xl=(0, 15), yl=(0, 0.12), xt=XT_0_15, yt=YT_012,
         c=[(pdh_k_x, pdh_k_y, K), (pdh_g_x, pdh_g_y, G), (pdh_r_x, pdh_r_y, R), (pdh_b_x, pdh_b_y, B)]),
    dict(t="ACONTa", lab="ACONTa", f=(300, 397, 459, 537), lp=(366, 472), xl=(0, 1.6), yl=(-0.01, 0.08), xt=XT_0_16S, yt=YT_ACA,
         c=[(aca_k_x, aca_k_y, K), (aca_g_x, aca_g_y, G), (aca_r_x, aca_r_y, R), (aca_b_x, aca_b_y, B)]),
    dict(t="ACONTb", lab="ACONTb", f=(413, 509, 463, 535), lp=(481, 483), xl=(0, 1.6), yl=(0, 0.08), xt=XT_0_16S, yt=YT_008,
         c=[(acb_k_x, acb_k_y, K), (acb_g_x, acb_g_y, G), (acb_r_x, acb_r_y, R), (acb_b_x, acb_b_y, B)]),
    dict(t="ICDHyr", lab="ICDHyr", f=(532, 622, 462, 537), lp=(588, 476), xl=(0, 1.4), yl=(0, 0.1), xt=XT_0_14S, yt=YT_010,
         c=[(icd_k_x, icd_k_y, K), (icd_g_x, icd_g_y, G), (icd_r_x, icd_r_y, R), (icd_b_x, icd_b_y, B)]),
    dict(t="AKGDH", lab="AKGDH", f=(647, 741, 462, 537), lp=(694, 481), xl=(0, 0.9), yl=(0, 0.16), xt=XT_0_09, yt=YT_016,
         c=[(akgdh_k_x, akgdh_k_y, K), (akgdh_g_x, akgdh_g_y, G), (akgdh_r_x, akgdh_r_y, R), (akgdh_b_x, akgdh_b_y, B)]),
    dict(t="EX_pyr(e)", lab="EX_pyr(e)", f=(11, 110, 557, 637), lp=(66, 572), xl=(0, 4.5), yl=(0, 0.2), xt=XT_0_45, yt=YT_020B,
         c=[(pyr_k_x, pyr_k_y, K), (pyr_g_x, pyr_g_y, G), (pyr_b_x, pyr_b_y, B), (pyr_r_x, pyr_r_y, R)]),
    dict(t="PTAr", lab="PTAr", f=(140, 243, 553, 633), lp=(190, 571), xl=(0, 5), yl=(0, 0.16), xt=XT_0_5, yt=YT_016,
         c=[(pta_k_x, pta_k_y, K), (pta_g_x, pta_g_y, G), (pta_r_x, pta_r_y, R), (pta_b_x, pta_b_y, B)]),
    dict(t="EX_ac(e)", lab="EX_ac(e)", f=(142, 251, 674, 756), lp=(200, 689), xl=(0, 5), yl=(0, 0.16), xt=XT_0_5, yt=YT_016,
         c=[(exac_k_x, exac_k_y, K), (exac_g_x, exac_g_y, G), (exac_r_x, exac_r_y, R), (exac_b_x, exac_b_y, B)]),
    dict(t="ACALD", lab="ACALD", f=(303, 403, 559, 638), lp=(344, 568), xl=(0, 16), yl=(0, 0.12), xt=XT_0_16, yt=YT_012,
         c=[(acald_k_x, acald_k_y, K), (acald_g_x, acald_g_y, G), (acald_r_x, acald_r_y, R), (acald_b_x, acald_b_y, B)]),
    dict(t="ALCD2x", lab="ALCD2x", f=(452, 552, 563, 642), lp=(499, 569), xl=(0, 16), yl=(0, 0.1), xt=XT_0_16, yt=YT_010,
         c=[(alcd_k_x, alcd_k_y, K), (alcd_g_x, alcd_g_y, G), (alcd_r_x, alcd_r_y, R), (alcd_b_x, alcd_b_y, B)]),
    dict(t="EX_etoh(e)", lab="EX_etoh(e)", f=(592, 692, 564, 640), lp=(640, 568), xl=(0, 16), yl=(0, 0.1), xt=XT_0_16, yt=YT_010,
         c=[(etoh_k_x, etoh_k_y, K), (etoh_g_x, etoh_g_y, G), (etoh_r_x, etoh_r_y, R), (etoh_b_x, etoh_b_y, B)]),
    dict(t="ACALDt", lab="ACALDt", f=(303, 410, 670, 757), lp=(350, 682), xl=(-1, 0), yl=(0, 0.25), xt=XT_M1_0, yt=YT_025,
         c=[(acaldt_k_x, acaldt_k_y, K), (acaldt_g_x, acaldt_g_y, G), (acaldt_r_x, acaldt_r_y, R), (acaldt_b_x, acaldt_b_y, B)]),
    dict(t="Biomass_Ecoli_core_w_GAM", lab="Biomass", f=(22, 142, 773, 851), lp=(98, 792), xl=(0, 0.08), yl=(0, 0.2), xt=XT_0_008, yt=YT_020B,
         c=[(bio_k_x, bio_k_y, K), (bio_g_x, bio_g_y, G), (bio_r_x, bio_r_y, R), (bio_b_x, bio_b_y, B)]),
    dict(t="ATPS4r", lab="ATPS4r", f=(190, 326, 773, 851), lp=(218, 789), xl=(-6, 4), yl=(0, 0.1), xt=XT_M6_4, yt=YT_010,
         c=[(atp_k_x, atp_k_y, K), (atp_g_x, atp_g_y, G), (atp_r_x, atp_r_y, R), (atp_b_x, atp_b_y, B)]),
    dict(t="NADH16", lab="NADH16", f=(380, 506, 773, 851), lp=(422, 784), xl=(0, 12), yl=(0, 0.12), xt=XT_0_12, yt=YT_012,
         c=[(nadh_k_x, nadh_k_y, K), (nadh_g_x, nadh_g_y, G), (nadh_r_x, nadh_r_y, R), (nadh_b_x, nadh_b_y, B)]),
    dict(t="NADTRHD", lab="NADTRHD", f=(555, 677, 773, 851), lp=(625, 787), xl=(0, 20), yl=(0, 0.14), xt=XT_0_20, yt=YT_014,
         c=[(nadt_k_x, nadt_k_y, K), (nadt_g_x, nadt_g_y, G), (nadt_r_x, nadt_r_y, R), (nadt_b_x, nadt_b_y, B)]),
]

# arrows: (x_start, y_start, x_end, y_end) in page pixels
ARROWS = [
    (99, 42, 127, 42), (230, 39, 253, 39), (217, 49, 251, 49),
    (347, 28, 367, 18), (347, 63, 367, 74), (568, 48, 592, 48),
    (43, 77, 43, 97), (48, 177, 48, 201), (55, 166, 55, 193),
    (50, 286, 50, 306), (57, 292, 57, 313), (62, 299, 62, 319), (68, 305, 68, 324),
    (108, 372, 130, 372), (56, 418, 56, 440), (110, 488, 133, 488),
    (58, 526, 58, 549), (188, 522, 188, 544), (248, 594, 282, 594),
    (183, 636, 183, 658), (195, 644, 195, 666), (407, 594, 440, 594),
    (555, 594, 589, 594), (352, 643, 352, 665), (244, 472, 285, 403),
    (243, 372, 284, 372), (346, 306, 346, 330), (425, 272, 402, 272),
    (480, 323, 480, 305), (562, 272, 537, 272), (653, 336, 653, 316),
    (722, 315, 722, 337), (346, 431, 346, 455), (398, 502, 412, 502),
    (502, 459, 532, 446), (536, 376, 521, 362), (510, 506, 530, 506),
    (623, 506, 644, 506), (692, 456, 692, 436),
]

# large decorative connectors (page pixels)
SHAPE_MERGE = [(437, 14), (446, 14), (453, 22), (453, 72), (446, 80), (437, 80), (443, 60), (446, 47), (443, 34)]
SHAPE_DOWN = [(535, 89), (602, 89), (602, 92), (584, 99), (602, 104), (568, 111), (535, 104), (552, 99), (535, 92)]
SHAPE_SUCC = [(659, 221), (677, 218), (706, 218), (725, 221), (725, 233), (706, 228), (677, 228), (659, 233)]


def block_arrow(x0, y0, x1, y1, shaft=5.0, head_w=11.0, head_l=7.0):
    dx, dy = x1 - x0, y1 - y0
    ln = math.hypot(dx, dy)
    ux, uy = dx / ln, dy / ln
    nx, ny = -uy, ux
    bx, by = x1 - ux * head_l, y1 - uy * head_l
    s, h = shaft / 2, head_w / 2
    pts = [(x0 + nx * s, y0 + ny * s), (bx + nx * s, by + ny * s), (bx + nx * h, by + ny * h),
           (x1, y1), (bx - nx * h, by - ny * h), (bx - nx * s, by - ny * s), (x0 - nx * s, y0 - ny * s)]
    return [q[0] for q in pts], [q[1] for q in pts]


def fmt(v):
    return f"{v:g}"


p = figure(width=768, height=860, x_range=Range1d(0, 768), y_range=Range1d(860, 0),
           x_axis_location=None, y_axis_location=None, toolbar_location=None,
           output_backend="svg", min_border=0)
p.outline_line_color = None
p.background_fill_color = "white"
p.border_fill_color = "white"
p.grid.visible = False

SMALL = "3.5px"
for P in PANELS:
    L, Rr, T, Bm = P["f"]
    x0, x1 = P["xl"]
    y0, y1 = P["yl"]
    p.quad(left=[L], right=[Rr], top=[T], bottom=[Bm], fill_color="white", line_color=FRAME, line_width=0.8)
    sub = p.subplot(x_source=Range1d(x0, x1), y_source=Range1d(y0, y1),
                    x_target=Range1d(L, Rr), y_target=Range1d(Bm, T))
    for xs, ys, col in P["c"]:
        sub.line(x=xs, y=ys, line_color=col, line_width=1)
    xt, yt = P["xt"], P["yt"]
    sub.text(x=xt, y=[y0] * len(xt), text=[fmt(v) for v in xt], text_font=value("Liberation Sans"),
             text_font_size=SMALL, text_align="center", text_baseline="top", y_offset=1.5, text_color=TICKC)
    sub.text(x=[x0] * len(yt), y=yt, text=[fmt(v) for v in yt], text_font=value("Liberation Sans"),
             text_font_size=SMALL, text_align="right", text_baseline="middle", x_offset=-1.2, text_color=TICKC)
    sub.text(x=[(x0 + x1) / 2], y=[y1], text=[P["t"]], text_font=value("Liberation Sans"),
             text_font_size=SMALL, text_align="center", text_baseline="bottom", y_offset=-1, text_color="#555555")
    p.text(x=[P["lp"][0]], y=[P["lp"][1]], text=[P["lab"]], text_font=value("Liberation Serif"),
           text_font_size="9.5px", text_align="center", text_baseline="middle", text_color=LABELC)

axs, ays = [], []
for a in ARROWS:
    xs, ys = block_arrow(*a)
    axs.append(xs)
    ays.append(ys)
for shp in (SHAPE_MERGE, SHAPE_DOWN, SHAPE_SUCC):
    axs.append([q[0] for q in shp])
    ays.append([q[1] for q in shp])
p.patches(xs=axs, ys=ays, fill_color=ARROWC, line_color=ARROWL, line_width=0.6)

open("out.html", "w").write(file_html(p, INLINE))
